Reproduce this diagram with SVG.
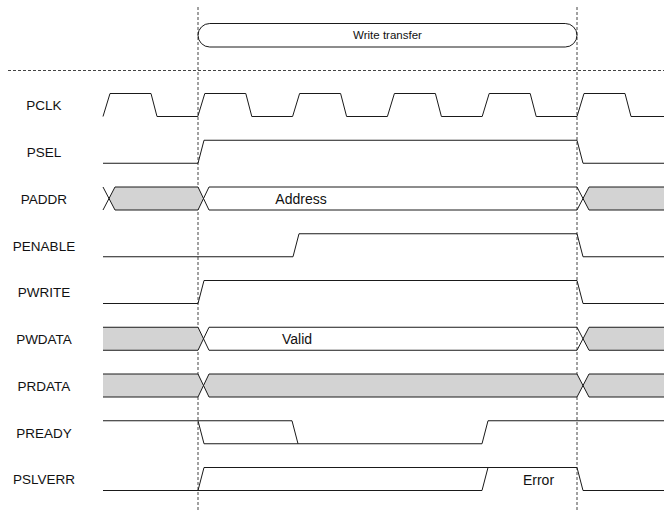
<svg xmlns="http://www.w3.org/2000/svg" width="664" height="513" viewBox="0 0 664 513">
<style>
.lbl{font-family:"Liberation Sans",Arial,sans-serif;font-size:13.5px;fill:#111;text-anchor:middle}
.val{font-family:"Liberation Sans",Arial,sans-serif;font-size:14px;fill:#111;text-anchor:middle}
.sm{font-family:"Liberation Sans",Arial,sans-serif;font-size:11.5px;fill:#111;text-anchor:middle}
.sig{fill:none;stroke:#1a1a1a;stroke-width:1}
.bus{fill:#d3d3d3;stroke:none}
.guide{fill:none;stroke:#444;stroke-width:1;stroke-dasharray:3 2}
</style>
<rect width="664" height="513" fill="#fff"/>
<g id="guides">
<line class="guide" x1="8" y1="70.5" x2="664" y2="70.5"/>
<line class="guide" x1="198" y1="7" x2="198" y2="512"/>
<line class="guide" x1="577" y1="7" x2="577" y2="512"/>
</g>
<g id="write-transfer">
<rect x="198" y="23.5" width="379" height="23.5" rx="11.75" fill="none" stroke="#1a1a1a"/>
<text class="sm" x="387.5" y="39">Write transfer</text>
</g>
<g id="pclk">
<text class="lbl" x="44" y="110">PCLK</text>
<path class="sig" d="M103,116.5 L110,93.5 H151 L157,116.5 H197.8 L204.8,93.5 H245.8 L251.8,116.5 H292.6 L299.6,93.5 H340.6 L346.6,116.5 H387.4 L394.4,93.5 H435.4 L441.4,116.5 H482.2 L489.2,93.5 H530.2 L536.2,116.5 H577 L584,93.5 H625 L631,116.5 H664"/>
</g>
<g id="psel">
<text class="lbl" x="44" y="157">PSEL</text>
<path class="sig" d="M103,163.25 H198 L204,140.25 H577 L583,163.25 H664"/>
</g>
<g id="paddr">
<text class="lbl" x="44" y="203.5">PADDR</text>
<polygon class="bus" points="109,198.5 115,187 198,187 203.5,198.5 198,210 115,210"/>
<polygon class="bus" points="583,198.5 589,187 664,187 664,210 589,210"/>
<path class="sig" d="M103,187 L115,210 M103,210 L115,187 M115,187 H198 L209,210 H577 L589,187 H664 M115,210 H198 L209,187 H577 L589,210 H664"/>
<text class="val" x="301" y="204">Address</text>
</g>
<g id="penable">
<text class="lbl" x="44" y="250.5">PENABLE</text>
<path class="sig" d="M103,256.75 H293 L299,233.75 H577 L583,256.75 H664"/>
</g>
<g id="pwrite">
<text class="lbl" x="44" y="297">PWRITE</text>
<path class="sig" d="M103,303.5 H198 L204,280.5 H577 L583,303.5 H664"/>
</g>
<g id="pwdata">
<text class="lbl" x="44" y="344">PWDATA</text>
<polygon class="bus" points="103,327.25 198,327.25 203.5,338.75 198,350.25 103,350.25"/>
<polygon class="bus" points="583,338.75 589,327.25 664,327.25 664,350.25 589,350.25"/>
<path class="sig" d="M103,327.25 H198 L209,350.25 H577 L589,327.25 H664 M103,350.25 H198 L209,327.25 H577 L589,350.25 H664"/>
<text class="val" x="297" y="344">Valid</text>
</g>
<g id="prdata">
<text class="lbl" x="44" y="390.5">PRDATA</text>
<polygon class="bus" points="103,374 198,374 203.5,385.5 198,397 103,397"/>
<polygon class="bus" points="203.5,385.5 209,374 577,374 583,385.5 577,397 209,397"/>
<polygon class="bus" points="583,385.5 589,374 664,374 664,397 589,397"/>
<path class="sig" d="M103,374 H198 L209,397 H577 L589,374 H664 M103,397 H198 L209,374 H577 L589,397 H664"/>
</g>
<g id="pready">
<text class="lbl" x="44" y="437.5">PREADY</text>
<path class="sig" d="M103,420.75 H292 L298,443.75 M198,420.75 L204,443.75 H482 L488,420.75 H664"/>
</g>
<g id="pslverr">
<text class="lbl" x="44" y="484">PSLVERR</text>
<path class="sig" d="M103,490.5 H482 L488,467.5 M198,490.5 L204,467.5 H577 L583,490.5 H664"/>
<text class="val" x="538.5" y="485">Error</text>
</g>
</svg>
